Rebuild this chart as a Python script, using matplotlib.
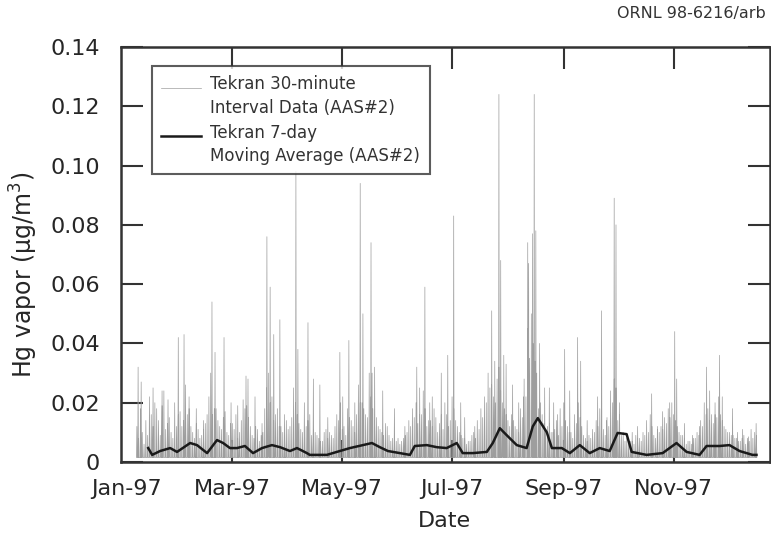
import numpy as np
import matplotlib
matplotlib.use("Agg")
import matplotlib.pyplot as plt
from matplotlib.legend_handler import HandlerLine2D

plt.rcParams['font.family'] = ['DejaVu Sans']

# --- Tekran 30-minute interval data (AAS#2) ---
# isolated spikes: day of year 1997 (0 = Jan 1) and peak value, ug/m3
spike_days = [6.7, 8.4, 15.0, 20.0, 23.3, 29.0, 32.2, 35.0, 39.0, 43.0,
              47.7, 49.4, 54.4, 58.3, 62.0, 66.6, 67.7, 71.6, 75.5, 78.2,
              80.0, 82.0, 85.4, 88.0, 94.3, 95.4, 101.0, 104.0, 107.6, 112.0,
              118.7, 120.3, 123.7, 127.0, 130.0, 131.5, 136.0, 136.6, 138.0, 142.5,
              149.0, 154.8, 161.4, 163.0, 165.9, 168.6, 170.0, 175.0, 178.6, 181.9,
              185.8, 188.0, 193.6, 203.0, 204.7, 207.0, 208.0, 209.7, 211.0, 214.6,
              218.0, 220.7, 223.0, 223.5, 225.7, 226.6, 227.5, 229.6, 232.4, 235.0,
              237.4, 239.6, 243.5, 246.3, 250.7, 252.4, 256.0, 261.8, 264.0, 266.8,
              271.0, 272.0, 273.9, 281.0, 284.0, 291.8, 295.0, 297.9, 301.8, 304.6,
              305.7, 310.0, 314.5, 318.4, 322.3, 324.0, 327.0, 329.5, 331.0, 336.7,
              339.5, 342.3, 345.5, 349.8]
spike_vals = [0.032, 0.027, 0.025, 0.024, 0.021, 0.042, 0.043, 0.022, 0.018, 0.014,
              0.054, 0.037, 0.042, 0.020, 0.019, 0.029, 0.028, 0.022, 0.013, 0.076,
              0.059, 0.043, 0.048, 0.016, 0.098, 0.038, 0.047, 0.028, 0.026, 0.015,
              0.037, 0.022, 0.041, 0.020, 0.094, 0.050, 0.074, 0.030, 0.032, 0.024,
              0.018, 0.012, 0.032, 0.025, 0.059, 0.020, 0.022, 0.030, 0.036, 0.083,
              0.020, 0.015, 0.012, 0.051, 0.034, 0.124, 0.068, 0.036, 0.033, 0.026,
              0.020, 0.022, 0.074, 0.067, 0.077, 0.124, 0.078, 0.040, 0.025, 0.025,
              0.020, 0.016, 0.038, 0.024, 0.042, 0.034, 0.014, 0.022, 0.051, 0.014,
              0.089, 0.080, 0.020, 0.010, 0.012, 0.023, 0.012, 0.017, 0.020, 0.044,
              0.028, 0.013, 0.009, 0.012, 0.032, 0.024, 0.016, 0.036, 0.022, 0.018,
              0.010, 0.011, 0.0085, 0.013]

# daily maxima on even days (Jan 7 ... Dec 17)
even_days = np.arange(6, 351, 2)
even_vals = [0.012, 0.018, 0.006, 0.009, 0.016, 0.020, 0.014, 0.019, 0.011, 0.015,
             0.008, 0.012, 0.017, 0.014, 0.016, 0.012, 0.008, 0.011, 0.009, 0.013,
             0.022, 0.016, 0.018, 0.012, 0.015, 0.010, 0.013,
             0.011, 0.008, 0.014, 0.018, 0.015, 0.009, 0.012, 0.007, 0.010, 0.025,
             0.020, 0.014, 0.018, 0.012, 0.009, 0.011, 0.015, 0.020, 0.013, 0.010,
             0.012, 0.016, 0.011, 0.009, 0.007, 0.010, 0.008, 0.009, 0.012, 0.014,
             0.011, 0.009, 0.015, 0.012, 0.016, 0.020, 0.018, 0.015, 0.022, 0.014,
             0.012, 0.010, 0.013, 0.009, 0.008, 0.007, 0.006, 0.008, 0.010, 0.012,
             0.015, 0.013, 0.016, 0.018, 0.014, 0.012, 0.015, 0.013, 0.011, 0.016,
             0.014,
             0.018, 0.012, 0.009, 0.008, 0.007, 0.009, 0.008, 0.011, 0.015, 0.020,
             0.025, 0.022, 0.028, 0.024, 0.018, 0.014, 0.016, 0.012, 0.010, 0.015,
             0.022, 0.035, 0.040, 0.030, 0.020, 0.013, 0.012, 0.010, 0.011, 0.009,
             0.012,
             0.014, 0.010, 0.008, 0.013, 0.015, 0.009, 0.007, 0.008, 0.010, 0.012,
             0.014, 0.009, 0.012, 0.020, 0.025, 0.016, 0.010, 0.008, 0.007, 0.006,
             0.008, 0.007, 0.009, 0.010, 0.012, 0.008, 0.010, 0.011, 0.013, 0.015,
             0.016, 0.012, 0.009, 0.008, 0.007, 0.006, 0.008, 0.009, 0.012, 0.016,
             0.014, 0.013, 0.015, 0.016, 0.012, 0.010, 0.009, 0.008, 0.007, 0.008,
             0.006, 0.007, 0.008, 0.009]
# daily maxima on odd days (Jan 8 ... Dec 16)
odd_days = np.arange(7, 350, 2)
odd_vals = [0.008, 0.010, 0.014, 0.022, 0.012, 0.018, 0.009, 0.024, 0.013, 0.010,
            0.020, 0.016, 0.012, 0.026, 0.018, 0.010, 0.013, 0.008, 0.011, 0.016,
            0.030, 0.018, 0.014, 0.011, 0.017, 0.009,
            0.013, 0.016, 0.010, 0.021, 0.019, 0.012, 0.008, 0.011, 0.009, 0.018,
            0.030, 0.022, 0.016, 0.012, 0.010, 0.014, 0.012, 0.025, 0.016, 0.011,
            0.020, 0.014, 0.009, 0.010, 0.008, 0.007, 0.011, 0.010, 0.008, 0.016,
            0.020, 0.012, 0.018, 0.014, 0.010, 0.026, 0.020, 0.016, 0.030, 0.018,
            0.015, 0.011, 0.009, 0.012, 0.007, 0.006, 0.008, 0.007, 0.009, 0.014,
            0.018, 0.020, 0.016, 0.024, 0.012, 0.014, 0.018, 0.010, 0.016, 0.020,
            0.012,
            0.022, 0.014, 0.010, 0.008, 0.006, 0.007, 0.010, 0.014, 0.018, 0.022,
            0.030, 0.026, 0.020, 0.032, 0.020, 0.016, 0.012, 0.014, 0.011, 0.018,
            0.028, 0.045, 0.050, 0.034, 0.018, 0.016, 0.011, 0.013, 0.010, 0.014,
            0.018,
            0.020, 0.012, 0.010, 0.016, 0.020, 0.012, 0.008, 0.009, 0.011, 0.014,
            0.018, 0.011, 0.015, 0.024, 0.028, 0.014, 0.009, 0.007, 0.006, 0.007,
            0.009, 0.008, 0.010, 0.014, 0.016, 0.009, 0.011, 0.012, 0.015, 0.018,
            0.020, 0.014, 0.010, 0.009, 0.006, 0.007, 0.008, 0.010, 0.014, 0.020,
            0.018, 0.016, 0.020, 0.022, 0.014, 0.011, 0.010, 0.009, 0.008, 0.007,
            0.009, 0.008, 0.011, 0.010]
# night-time minimum the trace keeps returning to
hg_floor = 0.0015

# --- Tekran 7-day moving average (AAS#2) ---
ma_days = [12.3, 14.5, 18.9, 24.5, 28.3, 35.6, 39.4, 45.0, 50.5, 53.9,
           57.7, 61.6, 66.0, 70.5, 75.5, 81.0, 85.5, 91.0, 94.9, 100.4,
           102.0, 111.5, 117.0, 124.3, 131.5, 136.5, 140.9, 145.4, 152.0, 157.6,
           160.3, 167.0, 172.5, 178.0, 183.6, 186.9, 192.5, 200.3, 203.6, 207.5,
           211.4, 216.9, 222.4, 225.8, 228.6, 233.6, 236.4, 241.9, 246.4, 251.9,
           257.4, 263.0, 268.5, 272.9, 277.9, 280.7, 289.0, 297.9, 305.6, 311.2,
           318.4, 322.3, 329.5, 335.0, 340.6, 347.8, 350.0]
ma_vals = [0.0047, 0.0024, 0.0037, 0.0047, 0.0034, 0.0064, 0.0057, 0.0030, 0.0074, 0.0064,
           0.0047, 0.0047, 0.0054, 0.0030, 0.0047, 0.0057, 0.0050, 0.0037, 0.0047, 0.0030,
           0.0024, 0.0024, 0.0034, 0.0047, 0.0057, 0.0064, 0.0050, 0.0037, 0.0030, 0.0024,
           0.0054, 0.0057, 0.0050, 0.0047, 0.0064, 0.0030, 0.0030, 0.0034, 0.0064, 0.0114,
           0.0090, 0.0057, 0.0047, 0.0120, 0.0148, 0.0100, 0.0047, 0.0047, 0.0030, 0.0057,
           0.0030, 0.0047, 0.0037, 0.0098, 0.0094, 0.0034, 0.0024, 0.0030, 0.0064, 0.0034,
           0.0024, 0.0054, 0.0054, 0.0057, 0.0037, 0.0024, 0.0024]

y_ticks = [0, 0.02, 0.04, 0.06, 0.08, 0.10, 0.12, 0.14]
y_tick_labels = ['0', '0.02', '0.04', '0.06', '0.08', '0.10', '0.12', '0.14']
x_tick_dates = ['1997-01-01', '1997-03-01', '1997-05-01', '1997-07-01', '1997-09-01', '1997-11-01']
x_tick_labels = ['Jan-97', 'Mar-97', 'May-97', 'Jul-97', 'Sep-97', 'Nov-97']


def to_dates(days):
    mins = np.round(np.asarray(days, dtype=float) * 1440).astype(int)
    return np.datetime64('1997-01-01T00:00') + mins.astype('timedelta64[m]')


class FirstLineHandler(HandlerLine2D):
    """Legend sample placed beside the first line of a two-line label."""
    def create_artists(self, legend, orig_handle, xdescent, ydescent,
                       width, height, fontsize, trans):
        return super().create_artists(legend, orig_handle, xdescent,
                                      ydescent - 1.15 * fontsize, width,
                                      height, fontsize, trans)


# build the raw trace: each daily peak rises from and falls back to the floor
peak_days = np.concatenate([spike_days, even_days, odd_days])
peak_vals = np.concatenate([spike_vals, even_vals, odd_vals])
order = np.argsort(peak_days)
raw_d, raw_v = [], []
for d, v in zip(peak_days[order], peak_vals[order]):
    raw_d += [d - 0.2, d, d + 0.2]
    raw_v += [hg_floor, v, hg_floor]

fig = plt.figure(figsize=(7.71, 5.36), dpi=100)
ax = fig.add_axes([121 / 771, 74 / 536, 649 / 771, 415 / 536])

raw_line, = ax.plot(to_dates(raw_d), raw_v, color='0.62', lw=0.5,
                    label='Tekran 30-minute\nInterval Data (AAS#2)')
ma_line, = ax.plot(to_dates(ma_days), ma_vals, color='0.1', lw=1.8,
                   label='Tekran 7-day\nMoving Average (AAS#2)')

ax.set_xlim(to_dates([-2.8, 357.5]))
ax.set_ylim(0, 0.14)
ax.set_yticks(y_ticks)
ax.set_yticklabels(y_tick_labels, fontsize=16)
ax.set_xticks(np.array(x_tick_dates, dtype='datetime64[m]'))
ax.set_xticklabels(x_tick_labels, fontsize=16)

ax.tick_params(direction='in', length=16, width=1.5, color='0.2',
               top=True, right=True, labelcolor='0.15')
ax.tick_params(axis='y', pad=15)
ax.tick_params(axis='x', pad=12)
# the Jan tick sits on the left frame, keep only its label
jan = ax.xaxis.get_major_ticks()[0]
jan.tick1line.set_visible(False)
jan.tick2line.set_visible(False)
for s in ax.spines.values():
    s.set_linewidth(1.8)
    s.set_color('0.2')

ax.set_ylabel('Hg vapor (\u00b5g/m$^3$)', fontsize=17, color='0.15')
ax.yaxis.set_label_coords(-0.125, 0.45)
ax.set_xlabel('Date', fontsize=16, color='0.15')
ax.xaxis.set_label_coords(0.499, -0.118)

leg = ax.legend(handles=[raw_line, ma_line], loc='upper left',
                bbox_to_anchor=(0.048, 0.954),
                handler_map={raw_line: FirstLineHandler(), ma_line: FirstLineHandler()},
                fontsize=12, frameon=True, fancybox=False, handlelength=2.4,
                borderpad=0.55, labelspacing=0.4, handletextpad=0.55,
                borderaxespad=0)
leg.get_frame().set_edgecolor('0.2')
leg.get_frame().set_linewidth(1.5)
for t in leg.get_texts():
    t.set_color('0.2')
    t.set_linespacing(1.4)

fig.text(0.993, 0.975, 'ORNL 98-6216/arb', ha='right', va='center',
         fontsize=11.5, color='0.2')

fig.savefig('out.png', dpi=100)
